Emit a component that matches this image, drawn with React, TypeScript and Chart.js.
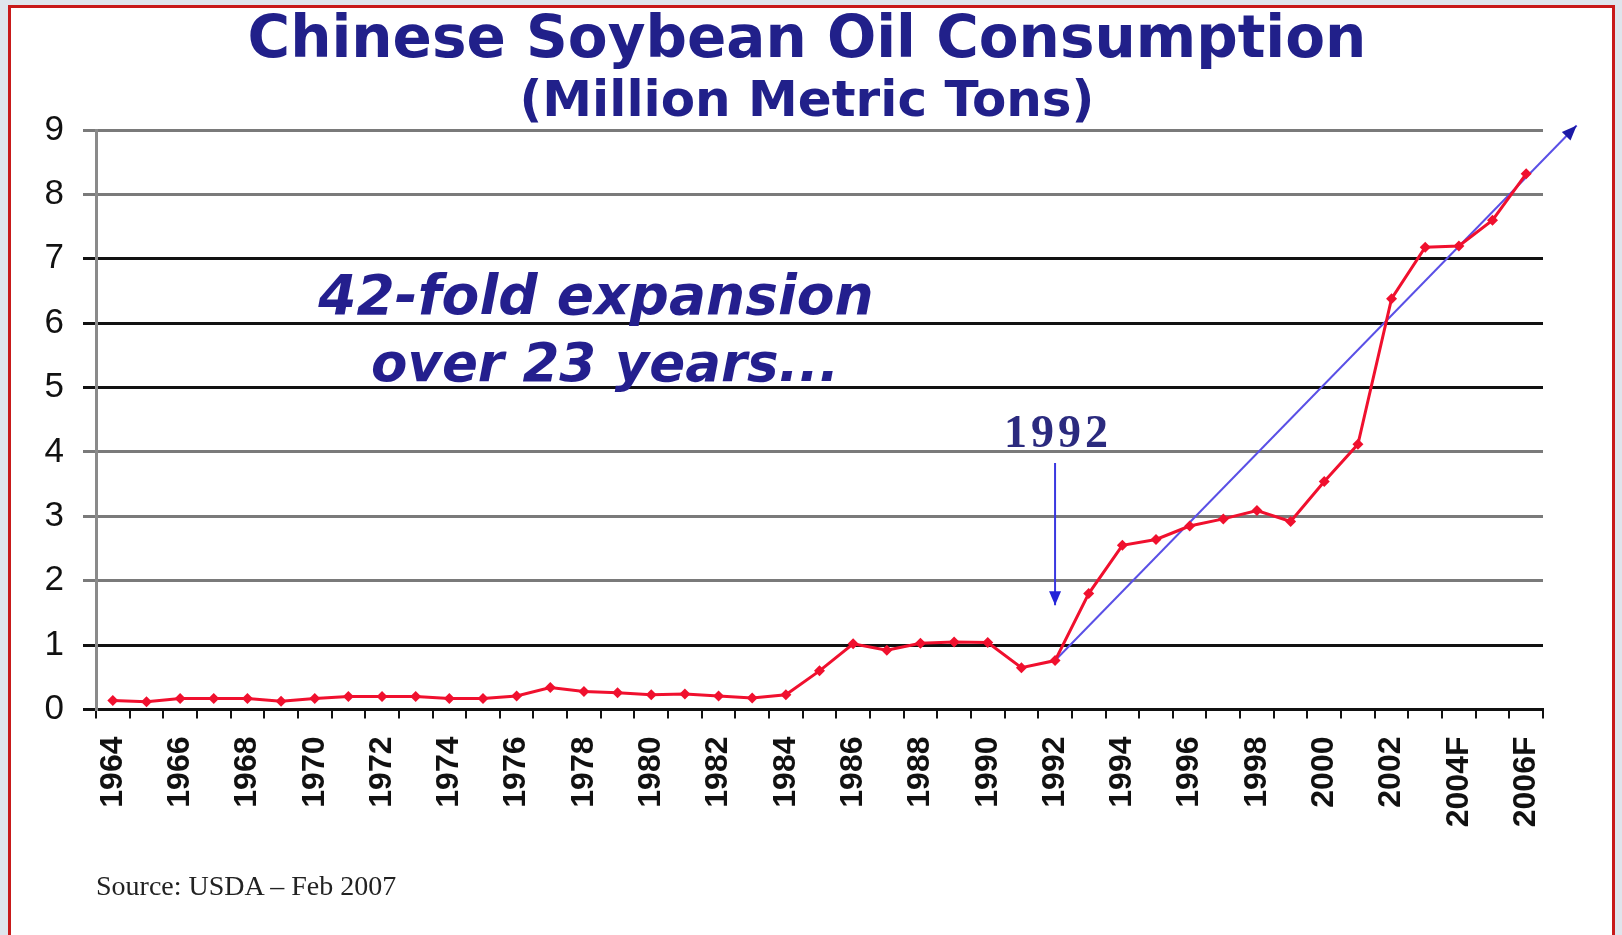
import React, { useEffect, useRef } from "react";
import Chart from "chart.js/auto";

const categories = [
  "1964", "1965", "1966", "1967", "1968", "1969", "1970", "1971", "1972", "1973",
  "1974", "1975", "1976", "1977", "1978", "1979", "1980", "1981", "1982", "1983",
  "1984", "1985", "1986", "1987", "1988", "1989", "1990", "1991", "1992", "1993",
  "1994", "1995", "1996", "1997", "1998", "1999", "2000", "2001", "2002", "2003",
  "2004F", "2005F", "2006F",
];

const consumption = [
  0.14, 0.12, 0.17, 0.17, 0.17, 0.13, 0.17, 0.2, 0.2, 0.2,
  0.17, 0.17, 0.21, 0.34, 0.28, 0.26, 0.23, 0.24, 0.21, 0.18,
  0.23, 0.6, 1.02, 0.92, 1.03, 1.05, 1.04, 0.65, 0.76, 1.8,
  2.55, 2.64, 2.85, 2.96, 3.09, 2.92, 3.54, 4.12, 6.38, 7.18,
  7.2, 7.6, 8.32,
];

const trendYears = [1992, 2007.5];
const trendValues = [0.76, 9.07];

const markerYears = [1992, 1992];
const markerValues = [3.83, 1.62];

const yTicks = [0, 1, 2, 3, 4, 5, 6, 7, 8, 9];
const gridColors = ["#111111", "#111111", "#7a7a7a", "#7a7a7a", "#7a7a7a", "#111111", "#111111", "#111111", "#7a7a7a", "#7a7a7a"];

const NAVY = "#21208a";

const arrowHeads = {
  id: "arrowHeads",
  afterDatasetsDraw(chart: any) {
    const ctx = chart.ctx;
    const specs = [
      { index: 1, color: "#1c1aa6", len: 15, half: 6 },
      { index: 2, color: "#2424d8", len: 14, half: 6 },
    ];
    specs.forEach((s) => {
      const meta = chart.getDatasetMeta(s.index);
      const pts = meta.data;
      if (!pts || pts.length < 2) return;
      const a = pts[pts.length - 2];
      const b = pts[pts.length - 1];
      const ang = Math.atan2(b.y - a.y, b.x - a.x);
      ctx.save();
      ctx.translate(b.x, b.y);
      ctx.rotate(ang);
      ctx.beginPath();
      ctx.moveTo(0, 0);
      ctx.lineTo(-s.len, -s.half);
      ctx.lineTo(-s.len, s.half);
      ctx.closePath();
      ctx.fillStyle = s.color;
      ctx.fill();
      ctx.restore();
    });
  },
};

export default function App() {
  const canvasRef = useRef<HTMLCanvasElement | null>(null);

  useEffect(() => {
    const canvas = canvasRef.current;
    if (!canvas) return;
    const chart = new Chart(canvas, {
      type: "line",
      data: {
        labels: categories,
        datasets: [
          {
            label: "Consumption",
            data: consumption,
            xAxisID: "x",
            borderColor: "#f0102e",
            backgroundColor: "#f0102e",
            borderWidth: 3,
            pointStyle: "rectRot",
            pointRadius: 5.5,
            pointBorderWidth: 0,
            tension: 0,
          },
          {
            label: "Trend",
            data: trendYears.map((y, i) => ({ x: y, y: trendValues[i] })),
            xAxisID: "x2",
            borderColor: "#5a50e6",
            borderWidth: 2,
            pointRadius: 0,
            clip: false,
            tension: 0,
          },
          {
            label: "1992 marker",
            data: markerYears.map((y, i) => ({ x: y, y: markerValues[i] })),
            xAxisID: "x2",
            borderColor: "#3a38e0",
            borderWidth: 2,
            pointRadius: 0,
            clip: false,
            tension: 0,
          },
        ],
      },
      options: {
        responsive: false,
        animation: false,
        events: [],
        layout: { padding: { left: 0, top: 130, right: 79, bottom: 0 } },
        plugins: {
          legend: { display: false },
          tooltip: { enabled: false },
          title: { display: false },
        },
        scales: {
          x: {
            type: "category",
            position: "bottom",
            offset: true,
            afterFit: (scale: any) => {
              scale.height = 935 - 709.5;
            },
            grid: {
              display: true,
              offset: true,
              drawOnChartArea: false,
              drawTicks: true,
              tickLength: 9,
              color: "#111111",
              lineWidth: 2,
            },
            border: { display: true, color: "#111111", width: 3 },
            ticks: {
              autoSkip: false,
              minRotation: 90,
              maxRotation: 90,
              padding: 18,
              color: "#111111",
              font: { family: "'Liberation Sans', Arial, sans-serif", size: 32, weight: "bold" },
              callback: (_v: any, idx: number) => (idx % 2 === 0 ? categories[idx] : ""),
            },
          },
          x2: {
            type: "linear",
            axis: "x",
            position: "bottom",
            display: false,
            min: 1963.5,
            max: 2006.5,
          },
          y: {
            type: "linear",
            position: "left",
            min: 0,
            max: 9,
            afterFit: (scale: any) => {
              scale.width = 96;
            },
            afterBuildTicks: (scale: any) => {
              scale.ticks = yTicks.map((v) => ({ value: v }));
            },
            grid: {
              color: (ctx: any) => gridColors[ctx.index] || "#111111",
              lineWidth: 3,
              drawTicks: true,
              tickLength: 13,
            },
            border: { display: true, color: "#8a8a8a", width: 3 },
            ticks: {
              padding: 19,
              color: "#111111",
              font: { family: "'Liberation Sans', Arial, sans-serif", size: 35 },
            },
          },
        },
      },
      plugins: [arrowHeads],
    });
    return () => chart.destroy();
  }, []);

  const textBase: React.CSSProperties = {
    position: "absolute",
    textAlign: "center",
    lineHeight: 1,
    whiteSpace: "nowrap",
  };

  return (
    <div style={{ position: "absolute", left: 0, top: 0, width: 1622, height: 935, overflow: "hidden", background: "#dfe5ec" }}>
      <div
        style={{
          position: "absolute",
          left: 8,
          top: 5,
          width: 1601,
          height: 960,
          border: "3px solid #c81a1a",
          background: "#ffffff",
        }}
      />
      <canvas ref={canvasRef} width={1622} height={935} style={{ position: "absolute", left: 0, top: 0 }} />
      <div
        style={{
          ...textBase,
          left: 107,
          top: 8,
          width: 1400,
          fontFamily: "'DejaVu Sans', Verdana, sans-serif",
          fontWeight: "bold",
          fontSize: 58,
          color: NAVY,
        }}
      >
        Chinese Soybean Oil Consumption
      </div>
      <div
        style={{
          ...textBase,
          left: 307,
          top: 74,
          width: 1000,
          fontFamily: "'DejaVu Sans', Verdana, sans-serif",
          fontWeight: "bold",
          fontSize: 50,
          color: NAVY,
        }}
      >
        (Million Metric Tons)
      </div>
      <div
        style={{
          ...textBase,
          left: 196,
          top: 268,
          width: 800,
          fontFamily: "'DejaVu Sans', Verdana, sans-serif",
          fontWeight: "bold",
          fontStyle: "italic",
          fontSize: 55,
          color: "#241f8e",
        }}
      >
        42-fold expansion
      </div>
      <div
        style={{
          ...textBase,
          left: 205,
          top: 336,
          width: 800,
          fontFamily: "'DejaVu Sans', Verdana, sans-serif",
          fontWeight: "bold",
          fontStyle: "italic",
          fontSize: 53,
          color: "#241f8e",
        }}
      >
        over 23 years...
      </div>
      <div
        style={{
          ...textBase,
          left: 958,
          top: 409,
          width: 200,
          fontFamily: "'Liberation Serif', 'Times New Roman', serif",
          fontWeight: "bold",
          fontSize: 46,
          letterSpacing: 4,
          color: "#2b2a7e",
        }}
      >
        1992
      </div>
      <div
        style={{
          position: "absolute",
          left: 96,
          top: 872,
          fontFamily: "'Liberation Serif', 'Times New Roman', serif",
          fontSize: 28,
          lineHeight: 1,
          color: "#222222",
          whiteSpace: "nowrap",
        }}
      >
        Source: USDA – Feb 2007
      </div>
    </div>
  );
}
